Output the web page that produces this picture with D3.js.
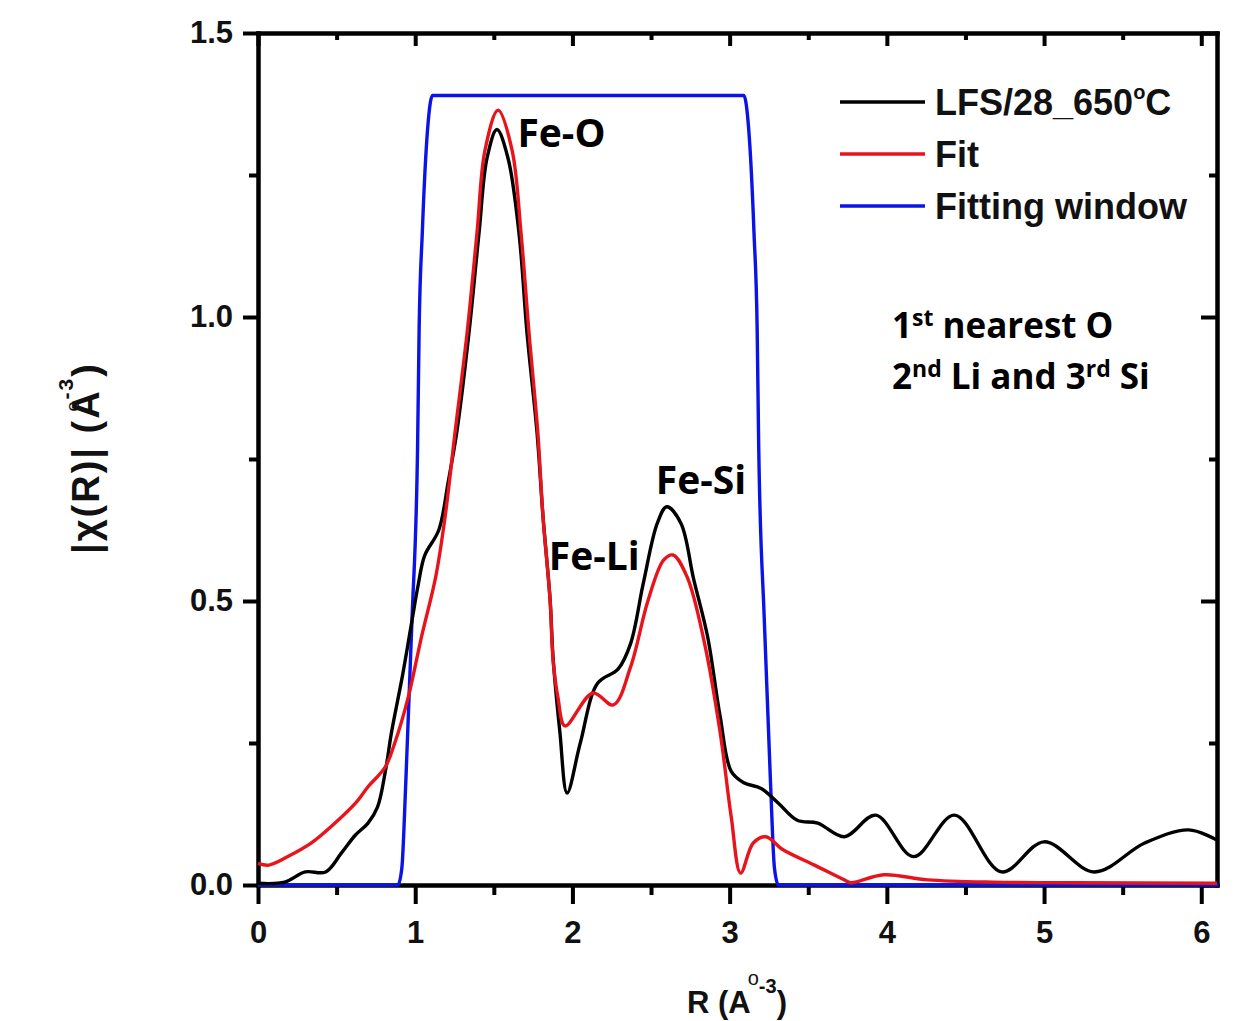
<!DOCTYPE html>
<html>
<head>
<meta charset="utf-8">
<script src="https://cdn.jsdelivr.net/npm/d3@7"></script>
<style>
  html, body { margin: 0; padding: 0; background: #fff; }
  svg { display: block; }
</style>
</head>
<body>
<svg id="chart" width="1243" height="1021"></svg>
<script>
// |chi(R)| Fourier-transform magnitude, fit and fitting window (R in Å)
const dataR = [0,0.17,0.30,0.43,0.53,0.62,0.70,0.76,0.81,0.85,0.92,0.97,1.02,1.06,1.15,1.21,1.266,1.342,1.406,1.457,1.52,1.59,1.66,1.711,1.775,1.813,1.858,1.877,1.92,1.966,2.05,2.16,2.29,2.37,2.45,2.54,2.60,2.69,2.77,2.86,2.94,3.01,3.09,3.20,3.31,3.43,3.56,3.73,3.93,4.17,4.43,4.73,5.00,5.32,5.64,5.92,6.10];
const dataChi = [0.003,0.005,0.023,0.023,0.056,0.088,0.109,0.137,0.20,0.27,0.37,0.45,0.53,0.58,0.625,0.71,0.80,0.972,1.148,1.28,1.33,1.28,1.148,0.972,0.796,0.648,0.502,0.40,0.27,0.162,0.25,0.355,0.38,0.425,0.53,0.637,0.666,0.637,0.54,0.437,0.296,0.20,0.18,0.17,0.144,0.114,0.109,0.085,0.123,0.05,0.123,0.023,0.076,0.023,0.074,0.097,0.079];

const fitR = [0,0.07,0.19,0.34,0.49,0.62,0.70,0.81,0.87,0.955,1.04,1.13,1.19,1.253,1.33,1.393,1.444,1.527,1.616,1.673,1.724,1.78,1.813,1.858,1.877,1.908,1.953,2.13,2.26,2.37,2.48,2.58,2.64,2.73,2.84,2.94,3.01,3.07,3.15,3.23,3.34,3.54,3.73,3.77,3.98,4.26,4.68,5.20,6.10];
const fitChi = [0.038,0.035,0.05,0.074,0.109,0.144,0.173,0.208,0.25,0.33,0.437,0.542,0.648,0.796,0.972,1.148,1.294,1.364,1.294,1.148,0.972,0.796,0.648,0.502,0.396,0.33,0.28,0.338,0.317,0.384,0.50,0.572,0.581,0.542,0.426,0.268,0.12,0.021,0.074,0.085,0.062,0.035,0.009,0.004,0.018,0.009,0.005,0.004,0.003];

const winR = [0,0.89,0.915,0.94,0.98,1.015,1.025,1.045,1.08,1.11,3.09,3.12,3.155,3.175,3.185,3.22,3.26,3.285,3.31,6.11];
const winW = [0,0,0.03,0.18,0.47,0.77,0.98,1.148,1.335,1.39,1.39,1.335,1.148,0.98,0.77,0.47,0.18,0.03,0,0];

const xMajor = [0,1,2,3,4,5,6];
const xMinor = [0.5,1.5,2.5,3.5,4.5,5.5];
const yMajor = [0,0.5,1.0,1.5];
const yMinor = [0.25,0.75,1.25];

const seriesNames = ["LFS/28_650°C", "Fit", "Fitting window"];
const seriesColors = ["#000000", "#e8141b", "#0a14e6"];

const svg = d3.select("#chart");
const x = d3.scaleLinear().domain([0, 6.1]).range([258, 1217]);
const y = d3.scaleLinear().domain([0, 1.5]).range([885, 33]);

const tickFont = "'Liberation Sans', Arial, sans-serif";

function styleAxis(g) {
  g.select(".domain").attr("stroke", "#000").attr("stroke-width", 4).attr("stroke-linecap", "square");
  g.selectAll(".tick line").attr("stroke", "#000").attr("stroke-width", 4);
  g.selectAll(".tick text")
    .attr("font-family", tickFont).attr("font-weight", "bold")
    .attr("font-size", 31).attr("fill", "#111");
}

// bottom axis, ticks outward
svg.append("g").attr("transform", `translate(0,${y(0)})`)
  .call(d3.axisBottom(x).tickValues(xMinor).tickSize(10).tickSizeOuter(0).tickFormat(""))
  .call(styleAxis);
svg.append("g").attr("transform", `translate(0,${y(0)})`)
  .call(d3.axisBottom(x).tickValues(xMajor).tickSize(19).tickSizeOuter(0).tickPadding(17).tickFormat(d3.format("d")))
  .call(styleAxis);
// top axis, ticks inward
svg.append("g").attr("transform", `translate(0,${y(1.5)})`)
  .call(d3.axisTop(x).tickValues(xMinor).tickSize(-7).tickSizeOuter(0).tickFormat(""))
  .call(styleAxis);
svg.append("g").attr("transform", `translate(0,${y(1.5)})`)
  .call(d3.axisTop(x).tickValues(xMajor).tickSize(-13).tickSizeOuter(0).tickFormat(""))
  .call(styleAxis);
// left axis, ticks outward
svg.append("g").attr("transform", `translate(${x(0)},0)`)
  .call(d3.axisLeft(y).tickValues(yMinor).tickSize(9).tickSizeOuter(0).tickFormat(""))
  .call(styleAxis);
svg.append("g").attr("transform", `translate(${x(0)},0)`)
  .call(d3.axisLeft(y).tickValues(yMajor).tickSize(15).tickSizeOuter(0).tickPadding(10).tickFormat(d3.format(".1f")))
  .call(styleAxis);
// right axis, ticks inward
svg.append("g").attr("transform", `translate(${x(6.1)},0)`)
  .call(d3.axisRight(y).tickValues(yMinor).tickSize(-8).tickSizeOuter(0).tickFormat(""))
  .call(styleAxis);
svg.append("g").attr("transform", `translate(${x(6.1)},0)`)
  .call(d3.axisRight(y).tickValues(yMajor).tickSize(-16).tickSizeOuter(0).tickFormat(""))
  .call(styleAxis);

// curves
const smooth = d3.line().x(d => x(d[0])).y(d => y(d[1])).curve(d3.curveCatmullRom.alpha(0.5));
const mono = d3.line().x(d => x(d[0])).y(d => y(d[1])).curve(d3.curveMonotoneX);

const series = [
  { pts: d3.zip(dataR, dataChi), gen: smooth },
  { pts: d3.zip(fitR, fitChi), gen: smooth },
  { pts: d3.zip(winR, winW), gen: mono }
];
// drawing order: window, data, fit
[2, 0, 1].forEach(i => {
  svg.append("path")
    .attr("d", series[i].gen(series[i].pts))
    .attr("fill", "none")
    .attr("stroke", seriesColors[i])
    .attr("stroke-width", 3.4)
    .attr("stroke-linejoin", "round");
});

// legend
const legendY = [102, 154, 206];
seriesNames.forEach((name, i) => {
  svg.append("line")
    .attr("x1", 840).attr("x2", 925)
    .attr("y1", legendY[i]).attr("y2", legendY[i])
    .attr("stroke", seriesColors[i]).attr("stroke-width", 3.5);
  const t = svg.append("text")
    .attr("x", 935).attr("y", legendY[i] + 13)
    .attr("font-family", tickFont).attr("font-weight", "bold")
    .attr("font-size", 36).attr("fill", "#111");
  if (i === 0) {
    t.append("tspan").text("LFS/28_650");
    t.append("tspan").attr("font-size", 20).attr("dy", -16).text("o");
    t.append("tspan").attr("dy", 16).text("C");
  } else {
    t.text(name);
  }
});

// peak annotations
const annFont = "'Open Sans', Lato, sans-serif";
const ann = [
  { text: "Fe-O", r: 1.65, v: 1.30 },
  { text: "Fe-Si", r: 2.53, v: 0.689 },
  { text: "Fe-Li", r: 1.85, v: 0.554 }
];
ann.forEach(a => {
  svg.append("text")
    .attr("x", x(a.r)).attr("y", y(a.v))
    .attr("font-family", annFont).attr("font-weight", "bold")
    .attr("font-size", 39).attr("fill", "#000").text(a.text);
});

// coordination note
const note = svg.append("g").attr("font-family", annFont).attr("font-weight", "bold").attr("fill", "#000");
const l1 = note.append("text").attr("x", 892).attr("y", 338).attr("font-size", 35);
l1.append("tspan").text("1");
l1.append("tspan").attr("font-size", 23).attr("dy", -12).text("st");
l1.append("tspan").attr("dy", 12).text(" nearest O");
const l2 = note.append("text").attr("x", 892).attr("y", 389).attr("font-size", 35);
l2.append("tspan").text("2");
l2.append("tspan").attr("font-size", 23).attr("dy", -12).text("nd");
l2.append("tspan").attr("dy", 12).text(" Li and 3");
l2.append("tspan").attr("font-size", 23).attr("dy", -12).text("rd");
l2.append("tspan").attr("dy", 12).text(" Si");

// axis titles
const xt = svg.append("text")
  .attr("x", 737).attr("y", 1013).attr("text-anchor", "middle")
  .attr("font-family", tickFont).attr("font-weight", "bold").attr("font-size", 31).attr("fill", "#111");
xt.append("tspan").text("R (A");
xt.append("tspan").attr("font-size", 20).attr("font-weight", "normal").attr("dx", -3).attr("dy", -28).text("o");
xt.append("tspan").attr("font-size", 20).attr("dx", 0).attr("dy", 8).text("-3");
xt.append("tspan").attr("dy", 20).text(")");

const yt = svg.append("text")
  .attr("transform", "translate(99,458) rotate(-90)").attr("text-anchor", "middle")
  .attr("font-family", tickFont).attr("font-weight", "bold").attr("font-size", 38)
  .attr("letter-spacing", 2).attr("fill", "#111");
yt.append("tspan").text("|χ(R)| (A");
yt.append("tspan").attr("font-size", 18).attr("font-weight", "normal").attr("dx", -22).attr("dy", -20).text("o");
yt.append("tspan").attr("font-size", 21).attr("dx", 0).attr("dy", -6).text("-3");
yt.append("tspan").attr("dy", 26).text(")");
</script>
</body>
</html>
